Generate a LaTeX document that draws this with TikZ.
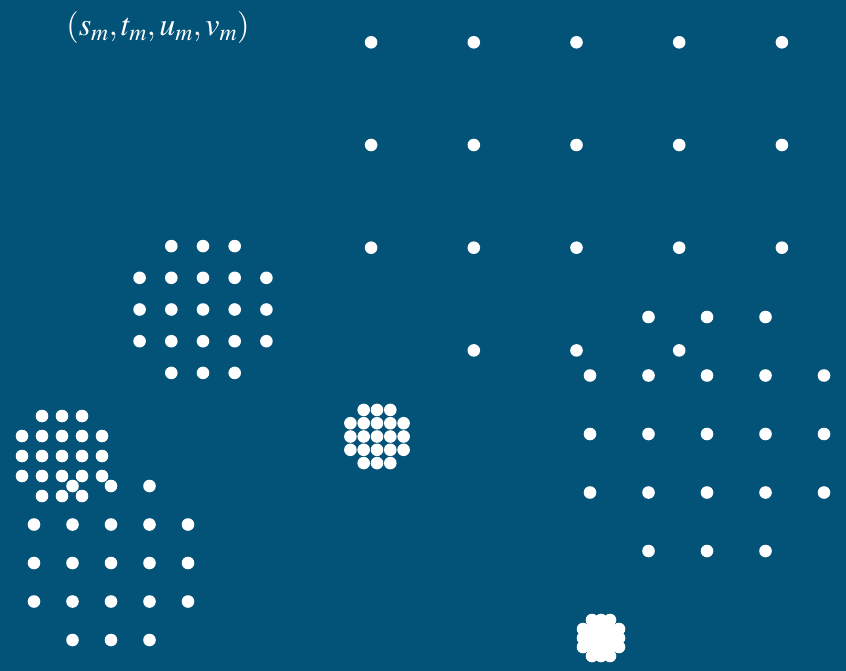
\documentclass[tikz,border=0pt]{standalone}
\usepackage{mathptmx}
\definecolor{bg}{RGB}{3,82,120}
\newcommand\dotgrid[3]{%
  \foreach \i in {-2,...,2}{\foreach \j in {-2,...,2}{%
    \ifnum\numexpr\i*\i+\j*\j\relax<8
      \fill[wdot] ({#1+\i*#3},{#2+\j*#3}) circle (6.3pt);
    \fi}}}
\begin{document}
\begin{tikzpicture}[x=1pt,y=-1pt, wdot/.style={fill=white}]
\fill[bg] (0,0) rectangle (846,671);
\useasboundingbox (0,0) rectangle (846,671);
\dotgrid{576.5}{145}{102.7}
\dotgrid{707}{434}{58.5}
\dotgrid{203}{309.5}{31.7}
\dotgrid{111}{563}{38.5}
\dotgrid{62}{456}{20}
\dotgrid{377}{436.5}{13.3}
\dotgrid{601}{638}{9}
\node[text=white, font=\fontsize{32}{36}\selectfont, inner sep=0pt] (label) at (158,28) {$(s_m,t_m,u_m,v_m)$};
\end{tikzpicture}
\end{document}
